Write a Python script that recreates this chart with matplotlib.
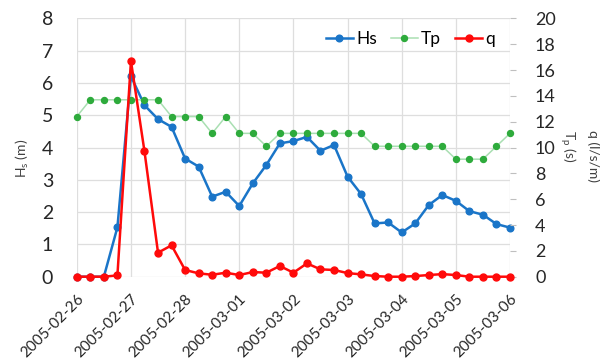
import matplotlib
matplotlib.use("Agg")
import matplotlib.pyplot as plt
import matplotlib.dates as mdates
import numpy as np
import pandas as pd

plt.rcParams['font.family'] = ['Lato', 'DejaVu Sans']

# 6-hourly records, 2005-02-26 00:00 to 2005-03-06 00:00
times = pd.date_range("2005-02-26 00:00", "2005-03-06 00:00", freq="6h")

# significant wave height (m)
hs = [0.0, 0.0, 0.0, 1.53, 6.21, 5.31, 4.88, 4.64, 3.66, 3.41, 2.48,
      2.63, 2.19, 2.89, 3.46, 4.13, 4.20, 4.33, 3.90, 4.08, 3.10, 2.56,
      1.65, 1.68, 1.37, 1.65, 2.22, 2.53, 2.35, 2.03, 1.92, 1.63, 1.52]

# peak period (s)
tp = [12.4, 13.7, 13.7, 13.7, 13.7, 13.7, 13.7, 12.4, 12.4, 12.4, 11.1,
      12.4, 11.1, 11.1, 10.1, 11.1, 11.1, 11.1, 11.1, 11.1, 11.1, 11.1,
      10.1, 10.1, 10.1, 10.1, 10.1, 10.1, 9.1, 9.1, 9.1, 10.1, 11.1]

# overtopping discharge (l/s/m)
q = [0.0, 0.0, 0.0, 0.1, 16.7, 9.7, 1.86, 2.43, 0.52, 0.26, 0.15,
     0.31, 0.13, 0.36, 0.31, 0.83, 0.31, 1.03, 0.57, 0.52, 0.28, 0.18,
     0.05, 0.0, 0.0, 0.05, 0.13, 0.2, 0.13, 0.0, 0.0, 0.0, 0.0]

day_ticks = pd.date_range("2005-02-26", "2005-03-06", freq="D")

BLUE = "#1a75c8"
GREEN_M = "#2eab3c"
GREEN_L = "#a9dfb2"
RED = "#ff0a0a"
GRID = "#dedede"

fig = plt.figure(figsize=(6.0, 3.61), dpi=100)
ax = fig.add_axes([0.128, 0.2335, 0.722, 0.7155])
ax2 = ax.twinx()

l1, = ax.plot(times, hs, color=BLUE, lw=1.8, marker="o", ms=4.8,
              clip_on=False, zorder=3, label="Hs")
l2, = ax2.plot(times, tp, color=GREEN_L, lw=1.1, marker="o", ms=4.3,
               mfc=GREEN_M, mec=GREEN_M, clip_on=False, zorder=3, label="Tp")
l3, = ax2.plot(times, q, color=RED, lw=1.8, marker="o", ms=5.0,
               clip_on=False, zorder=4, label="q")

ax.set_xlim(times[0], times[-1])
ax.set_ylim(0, 8)
ax2.set_ylim(0, 20)
ax.set_yticks(np.arange(0, 9, 1))
ax2.set_yticks(np.arange(0, 21, 2))
ax.set_xticks(day_ticks)
ax.xaxis.set_major_formatter(mdates.DateFormatter("%Y-%m-%d"))

ax.grid(True, color=GRID, lw=0.9)
ax.set_axisbelow(True)
for a in (ax, ax2):
    for s in a.spines.values():
        s.set_visible(False)

ax.tick_params(axis="y", length=0, pad=17, labelsize=14, labelcolor="#262626")
ax.tick_params(axis="x", length=0, pad=11, labelsize=11, labelcolor="#262626")
for lab in ax.get_xticklabels():
    lab.set_rotation(45)
    lab.set_ha("right")
    lab.set_rotation_mode("anchor")
ax2.tick_params(axis="y", length=4, width=0.8, color="#bfbfbf", pad=14,
                labelsize=13, labelcolor="#262626")

fig.text(22 / 600, 1 - 158 / 361, "H$_\\mathregular{s}$ (m)", rotation=90,
         ha="center", va="center", fontsize=10, color="#404040")
fig.text(568 / 600, 1 - 130 / 361, "T$_\\mathregular{p}$ (s)", rotation=270,
         ha="center", va="top", fontsize=10, color="#404040")
fig.text(593 / 600, 1 - 130 / 361, "q (l/s/m)", rotation=270,
         ha="center", va="top", fontsize=10, color="#404040")

ax2.legend(handles=[l1, l2, l3], loc="upper right", ncol=3, frameon=False,
           fontsize=12.5, handlelength=1.55, handletextpad=0.2,
           columnspacing=0.8, bbox_to_anchor=(0.99, 0.99), borderaxespad=0.2)

fig.savefig("out.png", dpi=100, facecolor="white")
